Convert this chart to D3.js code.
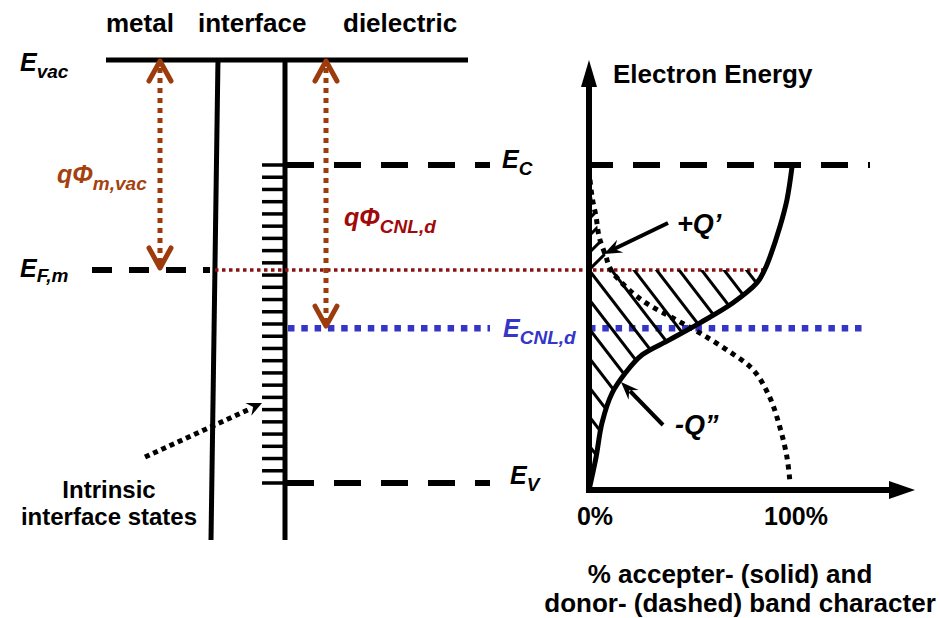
<!DOCTYPE html>
<html>
<head>
<meta charset="utf-8">
<script src="https://cdn.jsdelivr.net/npm/d3@7"></script>
<style>
  body { margin: 0; background: #fff; }
  svg { display: block; font-family: "Liberation Sans", Arial, sans-serif; font-weight: bold; }
</style>
</head>
<body>
<div id="chart"></div>
<script>
// energy levels, arbitrary units with E_V = 0 and E_C = 10
const levelKeys = ["vac", "C", "Fm", "CNL", "V"]
const levelEnergies = [13.3, 10, 6.7, 4.87, 0]

// acceptor-like (solid) band character vs energy
const acceptorEnergy = [-0.22, 0.82, 1.89, 2.83, 3.49, 4.03, 4.5, 5.03, 5.66, 6.29, 6.7, 7.0, 8.05, 8.9, 9.94]
const acceptorPercent = [0, 3.5, 6.4, 11.4, 18.3, 26.2, 39.6, 54.5, 70.8, 82.7, 86.5, 88.5, 94, 97.5, 100]

// donor-like (dashed) band character vs energy
const donorEnergy = [9.85, 9.0, 8.36, 7.74, 7.11, 6.8, 6.48, 5.75, 5.13, 4.72, 4.18, 3.55, 2.7, 1.76, 0.82, 0.03]
const donorPercent = [0, 1.5, 3.5, 5, 8.4, 10, 13.4, 26, 43, 54.5, 68, 81, 89, 94, 97.5, 99]

const regionLabels = ["metal", "interface", "dielectric"]
const percentTicks = [0, 100]
const numInterfaceStates = 27

const E = {}
levelKeys.forEach((k, i) => (E[k] = levelEnergies[i]))

const width = 940
const height = 618

const BROWN = "#9c3b0c"
const DARKRED = "#8b1010"
const BLUE = "#3535c8"

const svg = d3
  .select("#chart")
  .append("svg")
  .attr("width", width)
  .attr("height", height)

svg.append("rect").attr("width", width).attr("height", height).attr("fill", "#fff")

const yScale = d3.scaleLinear().domain([0, 10]).range([483, 165])
const xPct = d3.scaleLinear().domain([0, 100]).range([589, 792])

// left panel layout
const metalTopX = 218
const metalBotX = 211
const ifaceX = 285
const bottomY = 540

function hline(x1, x2, e, stroke, sw, dash) {
  const l = svg
    .append("line")
    .attr("x1", x1)
    .attr("x2", x2)
    .attr("y1", yScale(e))
    .attr("y2", yScale(e))
    .attr("stroke", stroke)
    .attr("stroke-width", sw)
  if (dash) l.attr("stroke-dasharray", dash)
  return l
}

function subLabel(x, y, main, sub, color, size, subSize, dy) {
  const t = svg
    .append("text")
    .attr("x", x)
    .attr("y", y)
    .attr("fill", color)
    .attr("font-style", "italic")
    .attr("font-size", size)
  t.append("tspan").text(main)
  t.append("tspan").attr("font-size", subSize).attr("dy", dy).text(sub)
  return t
}

function arrowHead(x1, y1, x2, y2, len, hw, color) {
  const a = Math.atan2(y2 - y1, x2 - x1)
  const c = Math.cos(a), s = Math.sin(a)
  const bx = x2 - len * c, by = y2 - len * s
  const mx = x2 - len * 0.65 * c, my = y2 - len * 0.65 * s
  const pts = [
    [x2, y2],
    [bx - s * hw, by + c * hw],
    [mx, my],
    [bx + s * hw, by - c * hw],
  ]
  svg.append("path").attr("d", "M" + pts.join("L") + "Z").attr("fill", color)
}

// region titles
const titleX = [106, 198, 343]
svg
  .selectAll("text.region")
  .data(regionLabels)
  .enter()
  .append("text")
  .attr("class", "region")
  .attr("x", (d, i) => titleX[i])
  .attr("y", 32)
  .attr("font-size", 26)
  .text(d => d)

// vacuum level
hline(106, 468, E.vac, "#000", 5)

// metal / interface / dielectric boundaries
svg
  .append("line")
  .attr("x1", metalTopX)
  .attr("y1", yScale(E.vac) - 2)
  .attr("x2", metalBotX)
  .attr("y2", bottomY)
  .attr("stroke", "#000")
  .attr("stroke-width", 5)
svg
  .append("line")
  .attr("x1", ifaceX)
  .attr("y1", yScale(E.vac) - 2)
  .attr("x2", ifaceX)
  .attr("y2", bottomY)
  .attr("stroke", "#000")
  .attr("stroke-width", 5)

// intrinsic interface states (ticks between E_V and E_C)
const stateE = d3.range(numInterfaceStates).map(i => E.V + (i * (E.C - E.V)) / (numInterfaceStates - 1))
svg
  .selectAll("line.state")
  .data(stateE)
  .enter()
  .append("line")
  .attr("class", "state")
  .attr("x1", 262)
  .attr("x2", ifaceX)
  .attr("y1", d => yScale(d))
  .attr("y2", d => yScale(d))
  .attr("stroke", "#000")
  .attr("stroke-width", 3.5)

// band edges in the dielectric
hline(287, 490, E.C, "#000", 6, "27,20")
hline(287, 490, E.V, "#000", 6, "27,20")
hline(586, 870, E.C, "#000", 6, "27,20")

// metal Fermi level
hline(92, 210, E.Fm, "#000", 6, "20,17")
hline(215, 766, E.Fm, DARKRED, 3.5, "3.5,3.5")

// charge neutrality level
hline(288, 490, E.CNL, BLUE, 6.5, "6.5,6.8")
hline(589, 868, E.CNL, BLUE, 6.5, "6.5,6.8")

// brown work-function arrows
function workArrow(x, eTop, eBot) {
  const yt = yScale(eTop), yb = yScale(eBot)
  svg
    .append("line")
    .attr("x1", x)
    .attr("x2", x)
    .attr("y1", yt + 8)
    .attr("y2", yb - 6)
    .attr("stroke", BROWN)
    .attr("stroke-width", 5)
    .attr("stroke-dasharray", "5,5")
  const chev = (y, d) =>
    svg
      .append("path")
      .attr("d", `M${x - 11},${y + d * 20}L${x},${y}L${x + 11},${y + d * 20}`)
      .attr("fill", "none")
      .attr("stroke", BROWN)
      .attr("stroke-width", 5)
      .attr("stroke-linecap", "round")
      .attr("stroke-linejoin", "round")
  chev(yt + 1, 1)
  chev(yb - 2, -1)
}
workArrow(160, E.vac, E.Fm)
workArrow(326, E.vac, E.CNL)

// level labels
subLabel(20, 71, "E", "vac", "#000", 25, 19, 7)
subLabel(20, 277, "E", "F,m", "#000", 25, 19, 5)
subLabel(502, 168, "E", "C", "#000", 25, 19, 7)
subLabel(510, 484, "E", "V", "#000", 25, 19, 7)
subLabel(503, 337, "E", "CNL,d", BLUE, 25, 19, 7)
subLabel(57, 183, "qΦ", "m,vac", "#a4420f", 25, 19, 7)
subLabel(344, 226, "qΦ", "CNL,d", "#a00a0a", 25, 19, 7)

// intrinsic states annotation
svg
  .append("line")
  .attr("x1", 145)
  .attr("y1", 457)
  .attr("x2", 250)
  .attr("y2", 409)
  .attr("stroke", "#000")
  .attr("stroke-width", 5)
  .attr("stroke-dasharray", "5,4")
arrowHead(145, 457, 262, 403, 15, 7, "#000")
svg
  .selectAll("text.intr")
  .data(["Intrinsic", "interface states"])
  .enter()
  .append("text")
  .attr("class", "intr")
  .attr("x", 109)
  .attr("y", (d, i) => 498 + i * 27)
  .attr("text-anchor", "middle")
  .attr("font-size", 24)
  .text(d => d)

// ---- right panel ----
const acceptor = acceptorEnergy.map((e, i) => ({ e, p: acceptorPercent[i] }))
const donor = donorEnergy.map((e, i) => ({ e, p: donorPercent[i] }))

const curve = d3
  .line()
  .x(d => xPct(d.p))
  .y(d => yScale(d.e))
  .curve(d3.curveCatmullRom.alpha(0.5))

const area = d3
  .area()
  .x0(xPct(0))
  .x1(d => xPct(d.p))
  .y(d => yScale(d.e))
  .curve(d3.curveCatmullRom.alpha(0.5))

const defs = svg.append("defs")
defs.append("clipPath").attr("id", "belowF").append("rect")
  .attr("x", xPct(0)).attr("y", yScale(E.Fm)).attr("width", 300).attr("height", 260)
defs.append("clipPath").attr("id", "aboveF").append("rect")
  .attr("x", xPct(0)).attr("y", yScale(E.C)).attr("width", 300).attr("height", yScale(E.Fm) - yScale(E.C))
defs.append("clipPath").attr("id", "accArea").append("path").attr("d", area(acceptor))
defs.append("clipPath").attr("id", "donArea").append("path").attr("d", area(donor))

// -Q'' hatching: filled acceptor states below E_F
const negHatch = svg
  .append("g")
  .attr("clip-path", "url(#belowF)")
  .append("g")
  .attr("clip-path", "url(#accArea)")
const yF = yScale(E.Fm)
negHatch
  .selectAll("line")
  .data(d3.range(-12, 10))
  .enter()
  .append("line")
  .attr("x1", k => xPct(0) + 22.5 * k - 10)
  .attr("y1", yF - 13)
  .attr("x2", k => xPct(0) + 22.5 * k + 200)
  .attr("y2", yF + 260)
  .attr("stroke", "#000")
  .attr("stroke-width", 3)

// +Q' hatching: empty donor states above E_F
const posHatch = svg
  .append("g")
  .attr("clip-path", "url(#aboveF)")
  .append("g")
  .attr("clip-path", "url(#donArea)")
posHatch
  .selectAll("line")
  .data(d3.range(0, 7))
  .enter()
  .append("line")
  .attr("x1", xPct(0) - 20)
  .attr("y1", k => yF - 17 * k + 20)
  .attr("x2", xPct(0) + 60)
  .attr("y2", k => yF - 17 * k - 60)
  .attr("stroke", "#000")
  .attr("stroke-width", 3)

svg
  .append("path")
  .attr("d", curve(acceptor))
  .attr("fill", "none")
  .attr("stroke", "#000")
  .attr("stroke-width", 5)

svg
  .append("path")
  .attr("d", curve(donor))
  .attr("fill", "none")
  .attr("stroke", "#000")
  .attr("stroke-width", 5)
  .attr("stroke-dasharray", "5,5")

// axes
const axisY = 490
svg
  .append("line")
  .attr("x1", xPct(0))
  .attr("x2", xPct(0))
  .attr("y1", axisY + 2)
  .attr("y2", 84)
  .attr("stroke", "#000")
  .attr("stroke-width", 6)
svg
  .append("path")
  .attr("d", `M${xPct(0)},60L${xPct(0) + 8},87L${xPct(0) - 8},87Z`)
  .attr("fill", "#000")
svg
  .append("line")
  .attr("x1", xPct(0) - 3)
  .attr("x2", 892)
  .attr("y1", axisY)
  .attr("y2", axisY)
  .attr("stroke", "#000")
  .attr("stroke-width", 6)
svg
  .append("path")
  .attr("d", `M915,${axisY}L889,${axisY - 9}L889,${axisY + 9}Z`)
  .attr("fill", "#000")

svg
  .append("text")
  .attr("x", 613)
  .attr("y", 83)
  .attr("font-size", 26)
  .text("Electron Energy")

svg
  .selectAll("text.pct")
  .data(percentTicks)
  .enter()
  .append("text")
  .attr("class", "pct")
  .attr("x", d => xPct(d) + (d === 0 ? 6 : 4))
  .attr("y", 525)
  .attr("text-anchor", "middle")
  .attr("font-size", 25)
  .text(d => d + "%")

svg
  .append("text")
  .attr("x", 730)
  .attr("y", 583)
  .attr("text-anchor", "middle")
  .attr("font-size", 26)
  .text("% accepter- (solid) and")
svg
  .append("text")
  .attr("x", 740)
  .attr("y", 612)
  .attr("text-anchor", "middle")
  .attr("font-size", 26)
  .text("donor- (dashed) band character")

// charge annotations
svg
  .append("line")
  .attr("x1", 668)
  .attr("y1", 223)
  .attr("x2", 614)
  .attr("y2", 249)
  .attr("stroke", "#000")
  .attr("stroke-width", 4)
arrowHead(668, 223, 604, 254, 18, 7, "#000")
svg
  .append("text")
  .attr("x", 677)
  .attr("y", 233)
  .attr("font-style", "italic")
  .attr("font-size", 27)
  .text("+Q’")

svg
  .append("line")
  .attr("x1", 663)
  .attr("y1", 425)
  .attr("x2", 630)
  .attr("y2", 391)
  .attr("stroke", "#000")
  .attr("stroke-width", 4)
arrowHead(663, 425, 621, 382, 18, 7, "#000")
svg
  .append("text")
  .attr("x", 675)
  .attr("y", 434)
  .attr("font-style", "italic")
  .attr("font-size", 27)
  .text("-Q”")
</script>
</body>
</html>
